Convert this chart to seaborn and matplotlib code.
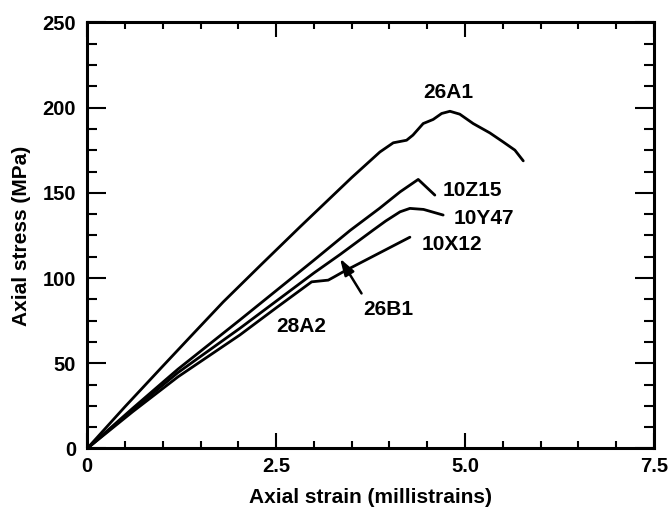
import numpy as np
import pandas as pd
import matplotlib
matplotlib.use("Agg")
import matplotlib.pyplot as plt
import seaborn as sns
from matplotlib.ticker import MultipleLocator, FixedLocator, FixedFormatter

# ---- data ----
strain_26A1 = [0, 0.5, 1.0, 1.4, 1.8, 2.3, 2.815, 3.5, 3.873, 4.05, 4.226, 4.31, 4.446, 4.578, 4.69, 4.80, 4.93, 5.107, 5.328, 5.504, 5.659, 5.77]
stress_26A1 = [0, 24.5, 48.3, 67.2, 86, 107.8, 130, 159, 174, 179.4, 180.9, 183.9, 190.7, 193.1, 196.6, 197.9, 196.2, 190.7, 185.2, 179.9, 175.1, 168.8]

strain_10Z15 = [0, 0.6, 1.2, 2.02, 3.0, 3.48, 3.87, 4.14, 4.38, 4.60]
stress_10Z15 = [0, 23.5, 46.5, 75.4, 110.5, 128, 141, 150.6, 157.9, 148.7]

strain_10Y47 = [0, 0.6, 1.2, 2.02, 3.0, 3.345, 3.785, 3.95, 4.14, 4.27, 4.45, 4.71]
stress_10Y47 = [0, 22.5, 44.5, 70.5, 103, 113.8, 128.2, 133.5, 138.9, 140.9, 140.3, 137]

strain_10X12 = [0, 0.6, 1.2, 2.02, 2.5, 2.97, 3.19, 3.26, 3.4, 4.27]
stress_10X12 = [0, 21.5, 42, 66.6, 82.5, 97.8, 98.8, 100.5, 104, 124]

specimens = ["26A1", "10Z15", "10Y47", "10X12"]

label_names = ["26A1", "10Z15", "10Y47", "10X12", "26B1", "28A2"]
label_x = [4.78, 5.10, 5.25, 4.82, 3.98, 2.83]
label_y = [209, 151.3, 134.8, 119.5, 81.8, 71.4]

arrow_tip = (3.345, 111.5)
arrow_tail = (3.63, 91)

x_ticks = [0, 2.5, 5.0, 7.5]
x_tick_labels = ["0", "2.5", "5.0", "7.5"]
y_ticks = [0, 50, 100, 150, 200, 250]

# ---- build long-form table ----
frames = []
for name, xs, ys in [("26A1", strain_26A1, stress_26A1),
                     ("10Z15", strain_10Z15, stress_10Z15),
                     ("10Y47", strain_10Y47, stress_10Y47),
                     ("10X12", strain_10X12, stress_10X12)]:
    frames.append(pd.DataFrame({"strain": xs, "stress": ys, "specimen": name}))
df = pd.concat(frames, ignore_index=True)

sns.set_style("ticks")
plt.rcParams["font.family"] = ["Liberation Sans", "DejaVu Sans"]
plt.rcParams["font.weight"] = "bold"
plt.rcParams["text.color"] = "black"
plt.rcParams["axes.labelcolor"] = "black"
plt.rcParams["xtick.color"] = "black"
plt.rcParams["ytick.color"] = "black"
plt.rcParams["axes.edgecolor"] = "black"

fig = plt.figure(figsize=(6.69, 5.09), dpi=100)
ax = fig.add_axes([0.1303, 0.1189, 0.8473, 0.8369])

sns.lineplot(data=df, x="strain", y="stress", hue="specimen", units="specimen",
             estimator=None, sort=False, palette=["black"] * 4, hue_order=specimens,
             linewidth=2.0, legend=False, ax=ax)

ax.set_xlim(0, 7.5)
ax.set_ylim(0, 250)

ax.xaxis.set_major_locator(FixedLocator(x_ticks))
ax.xaxis.set_major_formatter(FixedFormatter(x_tick_labels))
ax.xaxis.set_minor_locator(MultipleLocator(0.5))
ax.yaxis.set_major_locator(FixedLocator(y_ticks))
ax.yaxis.set_minor_locator(MultipleLocator(12.5))

ax.tick_params(axis="both", which="both", direction="in", top=True, right=True,
               width=1.5, colors="black", labelcolor="black")
ax.tick_params(axis="x", which="major", length=11, pad=6, labelsize=14.5)
ax.tick_params(axis="x", which="minor", length=5)
ax.tick_params(axis="y", which="major", length=14, pad=8, labelsize=14.5)
ax.tick_params(axis="y", which="minor", length=7)

for sp in ax.spines.values():
    sp.set_linewidth(2.2)
    sp.set_color("black")

ax.set_xlabel("Axial strain (millistrains)", fontsize=15, fontweight="bold",
              labelpad=9, color="black")
ax.set_ylabel("Axial stress (MPa)", fontsize=15, fontweight="bold",
              labelpad=8, color="black")

for name, lx, ly in zip(label_names, label_x, label_y):
    ax.text(lx, ly, name, fontsize=15, fontweight="bold", ha="center",
            va="center", color="black")

ax.annotate("", xy=arrow_tip, xytext=arrow_tail,
            arrowprops=dict(arrowstyle="-|>,head_length=1.0,head_width=0.32",
                            color="black", lw=1.8, shrinkA=0, shrinkB=0))

fig.savefig("out.png", dpi=100)
